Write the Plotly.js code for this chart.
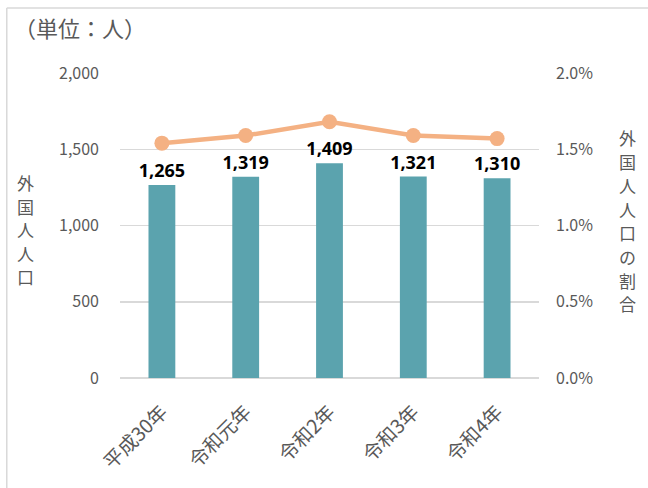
<!DOCTYPE html>
<html>
<head>
<meta charset="utf-8">
<script src="https://cdn.plot.ly/plotly-3.0.1.min.js"></script>
<style>
html,body{margin:0;padding:0;background:#fff;}
#chart{width:648px;height:488px;}
</style>
</head>
<body>
<div id="chart"></div>
<script>
const categories = ['平成30年', '令和元年', '令和2年', '令和3年', '令和4年'];
const foreignPop = [1265, 1319, 1409, 1321, 1310];
const foreignShare = [0.0154, 0.0159, 0.0168, 0.0159, 0.0157];
const popLabels = ['1,265', '1,319', '1,409', '1,321', '1,310'];
const leftTicks = [0, 500, 1000, 1500, 2000];
const rightTicks = [0, 0.005, 0.01, 0.015, 0.02];
const leftTitle = '外国人人口';
const rightTitle = '外国人人口の割合';
const unitText = '（単位：人）';

const tickFont = {family: 'Noto Sans CJK JP, Noto Sans, sans-serif', size: 16, color: '#595959'};
const titleFont = {family: 'Noto Sans CJK JP, sans-serif', size: 17, color: '#595959'};

// plot area geometry in pixels
const L = 119.5, W = 420, T = 73, H = 305.5, B0 = T + H;
const px2x = px => (px - L) / W;
const px2y = py => (B0 - py) / H;

const traces = [
  {
    type: 'bar',
    x: categories,
    y: foreignPop,
    text: popLabels,
    textposition: 'outside',
    constraintext: 'none',
    textfont: {family: 'Open Sans, Noto Sans, sans-serif', size: 18, color: '#000000', weight: 'bold'},
    cliponaxis: false,
    marker: {color: '#5BA3AE'},
    width: 0.32,
    hoverinfo: 'skip',
    showlegend: false
  },
  {
    type: 'scatter',
    mode: 'lines+markers',
    x: categories,
    y: foreignShare,
    yaxis: 'y2',
    line: {color: '#F4B183', width: 4.5},
    marker: {color: '#F4B183', size: 15},
    hoverinfo: 'skip',
    showlegend: false
  }
];

const annotations = [
  {
    text: unitText,
    xref: 'paper', yref: 'paper',
    x: px2x(11), y: px2y(27),
    xanchor: 'left', yanchor: 'middle',
    showarrow: false,
    font: {family: 'Noto Sans CJK JP, sans-serif', size: 22, color: '#595959'}
  }
];
Array.from(leftTitle).forEach((ch, i) => {
  annotations.push({
    text: ch, xref: 'paper', yref: 'paper',
    x: px2x(25), y: px2y(183 + i * 23.5),
    xanchor: 'center', yanchor: 'middle', showarrow: false,
    font: titleFont
  });
});
Array.from(rightTitle).forEach((ch, i) => {
  annotations.push({
    text: ch, xref: 'paper', yref: 'paper',
    x: px2x(628), y: px2y(138 + i * 23.75),
    xanchor: 'center', yanchor: 'middle', showarrow: false,
    font: titleFont
  });
});

const layout = {
  width: 648,
  height: 488,
  margin: {l: L, r: 648 - L - W, t: T, b: 488 - B0},
  paper_bgcolor: '#ffffff',
  plot_bgcolor: '#ffffff',
  font: tickFont,
  xaxis: {
    type: 'category',
    tickangle: -45,
    tickfont: {family: 'Noto Sans CJK JP, Noto Sans, sans-serif', size: 19.5, color: '#595959'},
    showgrid: false,
    showline: false,
    ticks: '',
    ticklabelstandoff: 18
  },
  yaxis: {
    range: [0, 2000],
    tickvals: leftTicks,
    tickformat: ',',
    tickfont: tickFont,
    showgrid: true,
    gridcolor: '#d9d9d9',
    gridwidth: 1.5,
    zeroline: true,
    zerolinecolor: '#d9d9d9',
    zerolinewidth: 1.5,
    showline: false,
    ticks: '',
    ticklabelstandoff: 20
  },
  yaxis2: {
    range: [0, 0.02],
    tickvals: rightTicks,
    tickformat: '.1%',
    tickfont: tickFont,
    overlaying: 'y',
    side: 'right',
    showgrid: false,
    zeroline: false,
    showline: false,
    ticks: '',
    ticklabelstandoff: 16
  },
  annotations: annotations,
  shapes: [
    {
      type: 'line', xref: 'paper', yref: 'paper',
      x0: px2x(6), x1: px2x(6),
      y0: px2y(8), y1: px2y(500),
      line: {color: '#d9d9d9', width: 1.5}
    },
    {
      type: 'line', xref: 'paper', yref: 'paper',
      x0: px2x(6), x1: px2x(660),
      y0: px2y(8), y1: px2y(8),
      line: {color: '#d9d9d9', width: 1.5}
    }
  ]
};

Plotly.newPlot('chart', traces, layout, {staticPlot: true, displayModeBar: false});
</script>
</body>
</html>
